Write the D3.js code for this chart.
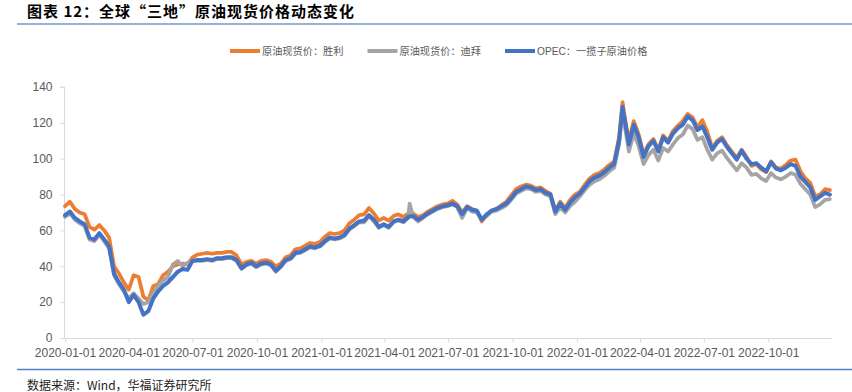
<!DOCTYPE html>
<html><head><meta charset="utf-8">
<script src="https://cdn.jsdelivr.net/npm/d3@7/dist/d3.min.js"></script>
<style>
html,body{margin:0;padding:0;background:#fff;}
svg{display:block;}
</style></head>
<body><svg id="c" width="852" height="392"></svg>
<script>
const titleText = "图表 12：全球“三地”原油现货价格动态变化";
const sourceText = "数据来源：Wind，华福证券研究所";
const seriesNames = ["原油现货价：胜利", "原油现货价：迪拜", "OPEC：一揽子原油价格"];
const seriesColors = ["#ED7D31", "#A5A5A5", "#4472C4"];
const xTickLabels = ["2020-01-01","2020-04-01","2020-07-01","2020-10-01","2021-01-01","2021-04-01","2021-07-01","2021-10-01","2022-01-01","2022-04-01","2022-07-01","2022-10-01"];
const yTickValues = [0,20,40,60,80,100,120,140];

const dates = [
"2020-01-01","2020-01-08","2020-01-15","2020-01-22","2020-01-29","2020-02-05","2020-02-12","2020-02-19","2020-02-26","2020-03-04","2020-03-11","2020-03-18","2020-03-25","2020-04-01","2020-04-08","2020-04-15","2020-04-22","2020-04-29","2020-05-06","2020-05-13","2020-05-20","2020-05-27","2020-06-03","2020-06-10","2020-06-17","2020-06-24","2020-07-01","2020-07-08","2020-07-15","2020-07-22","2020-07-29","2020-08-05","2020-08-12","2020-08-19","2020-08-26","2020-09-02","2020-09-09","2020-09-16","2020-09-23","2020-09-30","2020-10-07","2020-10-14","2020-10-21","2020-10-28","2020-11-04","2020-11-11","2020-11-18","2020-11-25","2020-12-02","2020-12-09","2020-12-16","2020-12-23","2020-12-30",
"2021-01-06","2021-01-13","2021-01-20","2021-01-27","2021-02-03","2021-02-10","2021-02-17","2021-02-24","2021-03-03","2021-03-10","2021-03-17","2021-03-24","2021-03-31","2021-04-07","2021-04-14","2021-04-21","2021-04-28","2021-05-05","2021-05-07","2021-05-12","2021-05-19","2021-05-26","2021-06-02","2021-06-09","2021-06-16","2021-06-23","2021-06-30","2021-07-07","2021-07-14","2021-07-21","2021-07-28","2021-08-04","2021-08-11","2021-08-18","2021-08-25","2021-09-01","2021-09-08","2021-09-15","2021-09-22","2021-09-29","2021-10-06","2021-10-13","2021-10-20","2021-10-27","2021-11-03","2021-11-10","2021-11-17","2021-11-24","2021-12-01","2021-12-08","2021-12-15","2021-12-22","2021-12-29",
"2022-01-05","2022-01-12","2022-01-19","2022-01-26","2022-02-02","2022-02-09","2022-02-16","2022-02-23","2022-03-02","2022-03-07","2022-03-09","2022-03-16","2022-03-23","2022-03-30","2022-04-06","2022-04-13","2022-04-20","2022-04-27","2022-05-04","2022-05-11","2022-05-18","2022-05-25","2022-06-01","2022-06-08","2022-06-15","2022-06-22","2022-06-29","2022-07-06","2022-07-13","2022-07-20","2022-07-27","2022-08-03","2022-08-10","2022-08-17","2022-08-24","2022-08-31","2022-09-07","2022-09-14","2022-09-21","2022-09-28","2022-10-05","2022-10-12","2022-10-19","2022-10-26","2022-11-02","2022-11-09","2022-11-16","2022-11-23","2022-11-30","2022-12-07","2022-12-14","2022-12-21","2022-12-28"
];

const shengli = [
73.5,76,72,70,69,62,60.5,63,60,56,40,36,31,27,35,34,23,21,29,30,35,37,40,41,41.5,41,45,46.5,47,47.5,47,47.5,47.5,48,48,46,41,42.5,43,41.5,43,43.5,42.5,40,41.5,45,46,49.5,50,51.5,53,52.5,53.5,
56.5,58.5,58,58.5,60,64,66,68.5,69,72.5,69.5,65.5,67,65.5,68,69,67.5,69.5,70,69.5,67.5,68.5,70.5,72,73.5,74.5,75,76.5,74.5,70,73.5,72,71,65,68.5,71,72,74,76,79.5,83,84.5,85.5,85,83.5,84,82,80.5,71,76,72.5,77,80,
81.5,85.5,89,91,92,94,96.5,98.5,112,131.5,126,110,121,113.5,102.5,108,111,105,113,110,115.5,118.5,121,125,123,117.5,121.5,115,106,110,112,107.5,104,100.5,105,101,96,97,94,92.5,98.5,95,94.5,96.5,99,99.5,93,89,86.5,79,80,83,82.5
];

const dubai = [
67.5,69.5,66,64,62.5,55,54,57.5,54,50,35,30,26,22,25,22,19,20,25,29,32,34,41,43,40,42,43,43,43,43.5,43,44,44,44.5,44.5,43,38.5,40.5,41.5,39.5,41,41.5,40.5,37,39.5,43,44,47,47.5,49,50.5,50,51,
53.5,55.5,55,55.5,57,60.5,62.5,64.5,64.5,68,65,61.5,63,61.5,64.5,65.5,64.5,67,75,67.5,65,67,69,70.5,72,73,73.5,74.5,73,67,72.5,70.5,70,66,68,70.5,71,72.5,74,77,80.5,82,83.5,83,81.5,82,80,79,69,73,70,73.5,76,
79,82.5,85.5,87.5,88.5,90.5,93,95,108,127,121,104,114,107,97,102,105,99,106,104,108,111.5,113.5,118.5,116.5,110.5,112,105,99.5,103,104.5,100.5,97,93.5,97.5,95,91,91.5,89,87.5,92,89.5,88.5,90,92,91,86,83,80,73,74.5,77,77.5
];

const opec = [
68.5,70.5,67,65,63.5,56,55,58.5,55,51,36,31,27,20,24,20,13,15,22,26,29,31,34,37,38.5,38,43,43.5,43.5,44,43.5,44.5,44.5,45,45,43.5,39,41,42,40,41.5,42,41,37.5,40,43.5,44.5,47.5,48,49.5,51,50.5,51.5,
54,56,55.5,56,57.5,61,63,65,65.5,68.5,66,62,63.5,62,65,66,65,67.5,67.8,68,66,67.5,69.5,71,72.5,73.5,74,75,73.5,69,73,71.5,71,66,69,71,72,73.5,75,78,81.5,83,84.5,84,82.5,83,81,80,70.5,75,71.5,75.5,78.5,
80.5,84,87.5,89.5,90.5,92.5,95,97,110,129,124,108,119,112,101,107,110,104,112,109,114,117,119,123.5,121.5,116,118,112,105,109,111,106.5,103,99.5,104.5,100,97,97.5,95,93,98,94.5,93.5,95,97,96,90,87,84,77,79,81,80
];

const svg = d3.select("#c");
const parse = d3.timeParse("%Y-%m-%d");
const labelFont = "'Liberation Sans Narrow','Arial Narrow',Arial,sans-serif";
const cjkFont = "'Noto Sans CJK SC','Noto Sans',sans-serif";

// title
svg.append("text").attr("x", 27).attr("y", 17)
  .attr("font-family", cjkFont).attr("font-weight", "bold")
  .attr("font-size", 15).attr("letter-spacing", 1).attr("fill", "#000").text(titleText);
svg.append("line").attr("x1", 17).attr("x2", 852).attr("y1", 24).attr("y2", 24)
  .attr("stroke", "#95B3D7").attr("stroke-width", 2.2);

// bottom rule & source
svg.append("line").attr("x1", 17).attr("x2", 852).attr("y1", 369.5).attr("y2", 369.5)
  .attr("stroke", "#4F81BD").attr("stroke-width", 1.3);
svg.append("text").attr("x", 27).attr("y", 390)
  .attr("font-family", cjkFont).attr("font-size", 12).attr("fill", "#222").text(sourceText);

const x = d3.scaleTime().domain([parse("2020-01-01"), parse("2022-12-31")]).range([65, 832]);
const y = d3.scaleLinear().domain([0, 140]).range([338, 87]);

// y axis
const yAxis = svg.append("g").attr("transform", "translate(64.5,0)")
  .call(d3.axisLeft(y).tickValues(yTickValues).tickSize(4).tickPadding(8).tickFormat(d3.format("d")));
yAxis.select(".domain").attr("stroke", "#D9D9D9").attr("d", "M-4," + y(140) + "H0V" + y(0));
yAxis.selectAll(".tick line").attr("stroke", "#D9D9D9");
yAxis.selectAll(".tick text").attr("font-family", labelFont).attr("font-size", 12).attr("fill", "#595959");

// x axis
const xAxis = svg.append("g").attr("transform", "translate(0,338.5)")
  .call(d3.axisBottom(x).tickValues(xTickLabels.map(parse)).tickSize(4).tickPadding(6).tickFormat(d3.timeFormat("%Y-%m-%d")));
xAxis.select(".domain").attr("stroke", "#D9D9D9").attr("d", "M64.5,0H832");
xAxis.selectAll(".tick line").attr("stroke", "#D9D9D9");
xAxis.selectAll(".tick text").attr("font-family", labelFont).attr("font-size", 12).attr("fill", "#595959");

// lines
const seriesData = [shengli, dubai, opec];
const line = d3.line().x((d, i) => x(parse(dates[i]))).y(d => y(d)).curve(d3.curveLinear);
seriesData.forEach((vals, si) => {
  svg.append("path").datum(vals).attr("d", line)
    .attr("fill", "none").attr("stroke", seriesColors[si])
    .attr("stroke-width", si === 2 ? 4 : 3.75)
    .attr("stroke-linejoin", "round").attr("stroke-linecap", "round");
});

// legend
let lx = 230;
const ly = 51;
seriesNames.forEach((name, i) => {
  svg.append("line").attr("x1", lx).attr("x2", lx + 30).attr("y1", ly).attr("y2", ly)
    .attr("stroke", seriesColors[i]).attr("stroke-width", 4);
  const t = svg.append("text").attr("x", lx + 32).attr("y", ly + 4)
    .attr("font-family", labelFont + "," + cjkFont).attr("font-size", 10.2).attr("fill", "#595959").text(name);
  const w = t.node().getComputedTextLength();
  lx = lx + 32 + w + 24;
});
</script>
</body></html>
